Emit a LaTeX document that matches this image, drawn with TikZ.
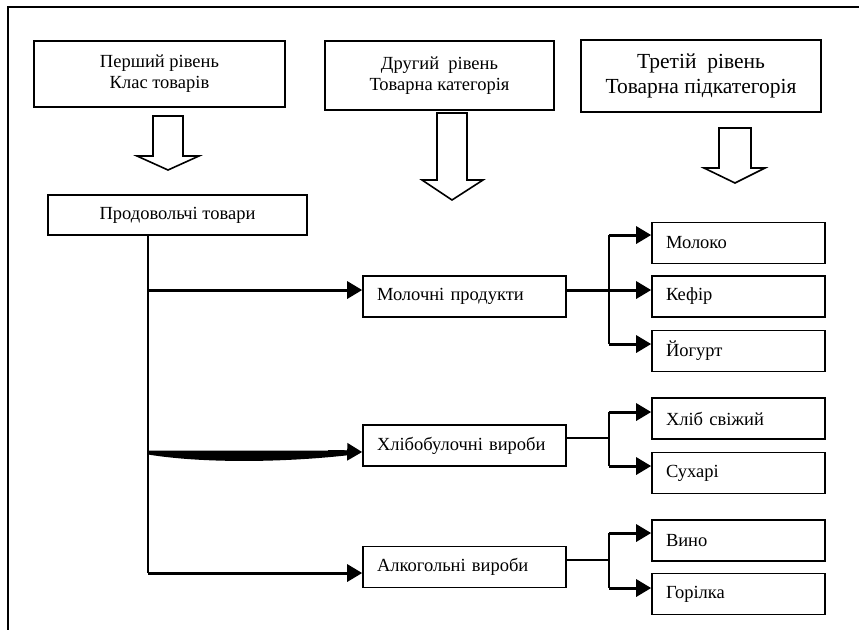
\documentclass[tikz,border=0pt]{standalone}
\usepackage{fontspec}
\setmainfont{Liberation Serif}
\usetikzlibrary{arrows.meta}

\tikzset{
	lvlbox/.style={draw, line width=1.6pt, align=center, inner sep=0pt, font=\fontsize{18.5}{21}\selectfont},
	itembox/.style={draw, line width=1.6pt, minimum height=41pt, inner xsep=14pt, inner ysep=0pt, align=left, font=\fontsize{18.5}{21}\selectfont},
	bigarrow/.style={draw, line width=1.6pt, line join=miter},
	conn/.style={line width=3pt, -{Triangle[length=15pt, width=17pt]}},
	thinconn/.style={line width=1.6pt}
}

\begin{document}
\begin{tikzpicture}[x=1pt, y=-1pt]
	
	\useasboundingbox (0,0) rectangle (859,630);
	\draw[line width=1.3pt] (859,7) -- (8,7) -- (8,630);
	
	%% levels
	\node[lvlbox, minimum width=251pt, minimum height=66pt] (L1) at (159.5,74) {Перший рівень\\Клас товарів};
	\node[lvlbox, minimum width=229pt, minimum height=69pt] (L2) at (439.5,75.5) {Другий\ \ рівень\\Товарна категорія};
	\node[lvlbox, minimum width=240pt, minimum height=72pt, font=\fontsize{21.5}{25}\selectfont] (L3) at (701,76) {Третій\ \ рівень\\Товарна підкатегорія};
	
	\draw[bigarrow] (153,116) -- (183,116) -- (183,156) -- (199,156) -- (168,170) -- (137,156) -- (153,156) -- cycle;
	\draw[bigarrow] (437,113) -- (467,113) -- (467,180) -- (483,180) -- (452,200) -- (422,180) -- (437,180) -- cycle;
	\draw[bigarrow] (719,128) -- (751,128) -- (751,168) -- (765,168) -- (735,183) -- (704,168) -- (719,168) -- cycle;
	
	%% classes
	\node[lvlbox, minimum width=259pt, minimum height=40pt] (prod) at (177.5,215) {Продовольчі товари};
	
	\node[itembox, text width=175pt] (mol) at (464.5,296.5) {Молочні продукти};
	\node[itembox, text width=175pt] (khl) at (464.5,445.5) {Хлібобулочні вироби};
	\node[itembox, text width=175pt] (alk) at (464.5,567) {Алкогольні вироби};
	
	\node[itembox, text width=145pt] (mlk) at (738.5,243) {Молоко};
	\node[itembox, text width=145pt] (kef) at (738.5,296.5) {Кефір};
	\node[itembox, text width=145pt] (yog) at (738.5,351) {Йогурт};
	\node[itembox, text width=145pt] (hls) at (738.5,418.5) {Хліб свіжий};
	\node[itembox, text width=145pt] (suh) at (738.5,473) {Сухарі};
	\node[itembox, text width=145pt] (vyn) at (738.5,540.5) {Вино};
	\node[itembox, text width=145pt] (hor) at (738.5,594) {Горілка};
	
	%% trunk
	\coordinate (T0) at (148,235);
	\coordinate (T1) at (148,290);
	\coordinate (T2) at (148,452);
	\coordinate (T3) at (148,573);
	\draw[line width=1.8pt] (T0) -- (T3);
	\draw[conn] (T1) -- (T1 -| mol.west);
	\fill (T2) ++(0,-1.5) -- (350,450.5) -- (350,455) .. controls (280,463) and (200,463) .. (148,454.5) -- cycle;
	\draw[conn] (T2) ++(180,-0.5) -- (T2 -| khl.west);
	\draw[conn] (T3) -- (T3 -| alk.west);
	
	%% dairy
	\coordinate (M0) at (609,235);
	\coordinate (M1) at (609,290);
	\coordinate (M2) at (609,344);
	\draw[line width=2.4pt] (M0) -- (M2);
	\draw[conn] (M0) -- (M0 -| mlk.west);
	\draw[conn] (mol.east |- M1) -- (M1 -| kef.west);
	\draw[conn] (M2) -- (M2 -| yog.west);
	
	%% bread
	\coordinate (B0) at (609,412);
	\coordinate (B1) at (609,438);
	\coordinate (B2) at (609,466);
	\draw[thinconn] (khl.east |- B1) -- (B1);
	\draw[line width=2.4pt] (B0) -- (B2);
	\draw[conn] (B0) -- (B0 -| hls.west);
	\draw[conn] (B2) -- (B2 -| suh.west);
	
	%% alcohol
	\coordinate (A0) at (609,533);
	\coordinate (A1) at (609,560);
	\coordinate (A2) at (609,588);
	\draw[thinconn] (alk.east |- A1) -- (A1);
	\draw[line width=2.4pt] (A0) -- (A2);
	\draw[conn] (A0) -- (A0 -| vyn.west);
	\draw[conn] (A2) -- (A2 -| hor.west);
	
\end{tikzpicture}
\end{document}
